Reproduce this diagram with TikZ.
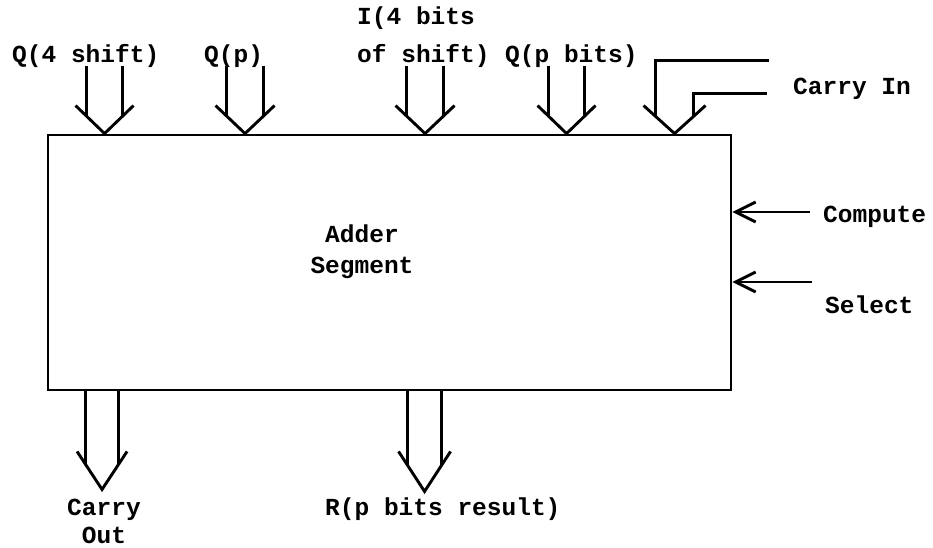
\documentclass[tikz,border=0pt]{standalone}
\usepackage{fontspec}
\newfontfamily\tw{Liberation Mono}
\usetikzlibrary{arrows.meta}
\newcommand\wideArrow[5]{% #1 tip, #2 half width, #3 barb half width, #4 barb height, #5 shaft length
  \begin{scope}[shift={(#1)}]
    \draw[wire] (-#2,-#5) -- (-#2,{-#4*#2/#3});
    \draw[wire] (#2,-#5) -- (#2,{-#4*#2/#3});
    \draw[wire] (-#3,-#4) -- (0,0) -- (#3,-#4);
  \end{scope}}
\tikzset{
  wire/.style={line width=2.9pt, black},
  lab/.style={font=\tw\bfseries\fontsize{24.5}{31}\selectfont, inner sep=0pt, text=black},
  inarrow/.style={wire, -{Straight Barb[length=20pt, width=20pt, line width=2.9pt]}}
}
\begin{document}
\begin{tikzpicture}[x=1pt, y=-1pt]
\useasboundingbox[fill=white] (0,0) rectangle (933,548);
% main block
\node[wire, draw, minimum width=683pt, minimum height=255pt, inner sep=0pt] (box) at (389.5,262.5) {};
\node[lab, align=center, anchor=base] (adder) at (362,273) {Adder\\Segment};
% top labels
\node[lab, anchor=base west] (q4) at (12,63) {Q(4 shift)};
\node[lab, anchor=base west] (qp) at (204,63) {Q(p)};
\node[lab, anchor=base west, align=left, font=\tw\bfseries\fontsize{24.5}{38}\selectfont] (i4) at (357,63) {I(4 bits\\of shift)};
\node[lab, anchor=base west] (qpb) at (505,63) {Q(p bits)};
\node[lab, anchor=base west] (cin) at (793,95) {Carry In};
\node[lab, anchor=base west] (comp) at (823,222) {Compute};
\node[lab, anchor=base west] (sel) at (825,313) {Select};
% bottom labels
\node[lab, anchor=base, align=center, font=\tw\bfseries\fontsize{24.5}{28}\selectfont] (cout) at (104,543) {Carry\\Out};
\node[lab, anchor=base west] (res) at (325,515) {R(p bits result)};
% tips of the wide arrows
\coordinate (t1) at ([xshift=58pt]box.north west);
\coordinate (t2) at ([xshift=198.5pt]box.north west);
\coordinate (t3) at ([xshift=378.5pt]box.north west);
\coordinate (t4) at ([xshift=520pt]box.north west);
\coordinate (t5) at ([xshift=628pt]box.north west);
\coordinate (b1) at ([xshift=55.5pt, yshift=-98pt]box.south west);
\coordinate (b2) at ([xshift=378pt, yshift=-100pt]box.south west);
% wide input arrows on top
\wideArrow{t1}{18}{29}{28}{68}
\wideArrow{t2}{18.5}{29.5}{28}{68}
\wideArrow{t3}{18.5}{29.5}{28}{68}
\wideArrow{t4}{18}{29}{28}{68}
% carry in
\begin{scope}[shift={(t5)}]
  \draw[wire] (94,-73) -- (-19,-73) -- (-19,{-28*19/31});
  \draw[wire] (92,-40) -- (19,-40) -- (19,{-28*19/31});
  \draw[wire] (-31,-28) -- (0,0) -- (31,-28);
\end{scope}
% wide output arrows at the bottom
\wideArrow{b1}{16.5}{25}{38}{98}
\wideArrow{b2}{17}{26}{40}{100}
% compute and select
\coordinate (cs) at (810,212);
\coordinate (ss) at (812,282);
\draw[inarrow] (cs) -- (cs -| box.east);
\draw[inarrow] (ss) -- (ss -| box.east);
\end{tikzpicture}
\end{document}
